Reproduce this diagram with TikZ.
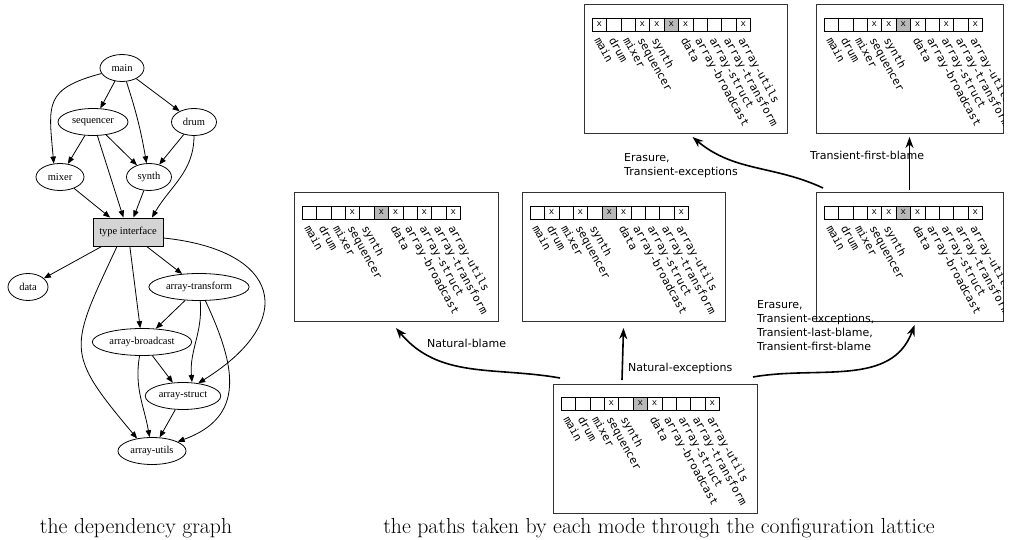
\documentclass[tikz,border=0pt]{standalone}
\usepackage{fontspec}
\newfontfamily\graphfont{Liberation Serif}
\newfontfamily\modefont{DejaVu Sans}
\newfontfamily\cellfont{DejaVu Sans Mono}
\newfontfamily\markfont{Liberation Mono}
\usetikzlibrary{arrows.meta,positioning,shapes.geometric}
\definecolor{ifacegray}{gray}{0.83}
\definecolor{holegray}{gray}{0.72}
\definecolor{framegray}{gray}{0.2}
\tikzset{
  dep/.style={ellipse,draw,line width=0.8pt,minimum width=44,minimum height=27,inner xsep=2.5pt,inner ysep=1pt,font=\graphfont\fontsize{10.5}{12}\selectfont},
  iface/.style={rectangle,draw,line width=0.9pt,fill=ifacegray,minimum width=70,minimum height=28,font=\graphfont\fontsize{10.5}{12}\selectfont},
  dedge/.style={-{Triangle[length=7pt,width=5.5pt]},line width=0.8pt},
  frame/.style={draw=framegray,line width=1pt,inner sep=0pt,outer sep=0pt,anchor=north west},
  cell/.style={draw,line width=0.6pt},
  modname/.style={rotate=-61,anchor=base west,inner sep=0pt,font=\cellfont\fontsize{11}{12}\selectfont},
  xmark/.style={inner sep=0pt,font=\markfont\fontsize{9}{10}\selectfont},
  mode/.style={-{Stealth[length=11pt,width=8pt]},line width=1.6pt},
  modelabel/.style={anchor=west,align=left,inner sep=0pt,font=\modefont\fontsize{11}{14}\selectfont},
  caption/.style={inner sep=0pt,anchor=base,font=\fontsize{21.7}{24}\selectfont}
}
% one configuration: name, left, top, width, height, typed cells
\newcommand{\confbox}[6]{%
\begin{scope}[shift={(#2,-#3)}]
\node[frame,minimum width=#4,minimum height=#5] (#1) at (0,0) {};
\begin{scope}
\clip (0,0) rectangle (#4,-#5);
\fill[holegray] (8+5*14.4,-13) rectangle +(14.4,-13);
\foreach \i in {0,...,10}
\draw[cell] (8+\i*14.4,-13) rectangle +(14.4,-13);
\foreach \i/\m in {0/main,1/drum,2/mixer,3/sequencer,4/synth,6/data,7/array-broadcast,8/array-struct,9/array-transform,10/array-utils}
\node[modname] (#1-\m) at (10+\i*14.4,-35) {\m};
\foreach \i in {#6}
\node[xmark] (#1-x\i) at (15.2+\i*14.4,-19.5) {x};
\end{scope}
\end{scope}}
\begin{document}
\begin{tikzpicture}[x=1pt,y=1pt]
\useasboundingbox (0,0) rectangle (1021,-540);
% dependency graph
\node[dep] (main) at (122,-68) {main};
\node[dep,minimum width=70] (sequencer) at (93,-122) {sequencer};
\node[dep,minimum width=45] (drum) at (194,-122) {drum};
\node[dep,minimum width=48] (mixer) at (60,-177) {mixer};
\node[dep,minimum width=45] (synth) at (149,-177) {synth};
\node[iface] (iface) at (128,-232) {type interface};
\node[dep,minimum width=40] (data) at (28,-287) {data};
\node[dep] (transform) at (199,-287) {array-transform};
\node[dep] (broadcast) at (142,-342) {array-broadcast};
\node[dep] (struct) at (183,-396) {array-struct};
\node[dep] (utils) at (152,-451) {array-utils};
\draw[dedge] (main) -- (sequencer);
\draw[dedge] (main) -- (drum);
\draw[dedge] (main) to[out=195,in=95,looseness=1.5] (mixer.115);
\draw[dedge] (main) to[out=-72,in=100] (synth);
\draw[dedge] (sequencer) -- (mixer);
\draw[dedge] (sequencer) -- (synth);
\draw[dedge] (sequencer) -- (iface);
\draw[dedge] (drum) -- (synth);
\draw[dedge] (drum.south) to[out=-90,in=60] ([xshift=24]iface.north);
\draw[dedge] (mixer) -- (iface);
\draw[dedge] (synth) -- (iface);
\draw[dedge] (iface) -- (data);
\draw[dedge] (iface) -- (transform);
\draw[dedge] (iface) -- (broadcast);
\draw[dedge] ([xshift=-11]iface.south) to[out=-115,in=130,looseness=1.5] (utils.140);
\draw[dedge] ([yshift=-6]iface.east) .. controls (280,-250) and (300,-320) .. (struct.40);
\draw[dedge] (transform) -- (broadcast);
\draw[dedge] (transform) to[out=-85,in=95] ([xshift=9]struct.north);
\draw[dedge] (transform) to[out=-65,in=20,looseness=1.3] (utils);
\draw[dedge] (broadcast) -- (struct);
\draw[dedge] (broadcast) to[out=-100,in=100] (utils);
\draw[dedge] (struct) -- (utils);
% configuration lattice
\confbox{tl}{584}{5}{203}{129}{0,3,4,5,6,10}
\confbox{tr}{816}{5}{187}{129}{3,4,5,6,8,10}
\confbox{nb}{294}{193}{204}{129}{3,5,6,8,10}
\confbox{ne}{522}{193}{203}{129}{1,3,5,6,10}
\confbox{tx}{816}{193}{187}{129}{3,4,5,6,10}
\confbox{start}{553}{384}{204}{129}{3,5,6,10}
\draw[mode] ([shift={(7,6)}]start.north west) to[out=170,in=-50] ([yshift=-6]nb.south);
\draw[mode] ([shift={(-33,4)}]start.north) -- ([yshift=-6]ne.south);
\draw[mode] ([shift={(-4,7)}]start.north east) to[out=10,in=-110] ([shift={(5,-3)}]tx.south);
\draw[mode] ([shift={(7,5)}]tx.north west) to[out=155,in=-40] ([shift={(7,-3)}]tl.south);
\draw[mode] ([yshift=3]tx.north) -- ([yshift=-3]tr.south);
\node[modelabel] (l-nb) at (427,-343) {Natural-blame};
\node[modelabel] (l-ne) at (628,-368) {Natural-exceptions};
\node[modelabel] (l-tx) at (757,-326) {Erasure,\\Transient-exceptions,\\Transient-last-blame,\\Transient-first-blame};
\node[modelabel] (l-tl) at (624,-166) {Erasure,\\Transient-exceptions};
\node[modelabel] (l-tr) at (810,-155) {Transient-first-blame};
% captions
\node[caption] (cap-graph) at (136,-533) {the dependency graph};
\node[caption] (cap-lattice) at (659,-533) {the paths taken by each mode through the configuration lattice};
\end{tikzpicture}
\end{document}
